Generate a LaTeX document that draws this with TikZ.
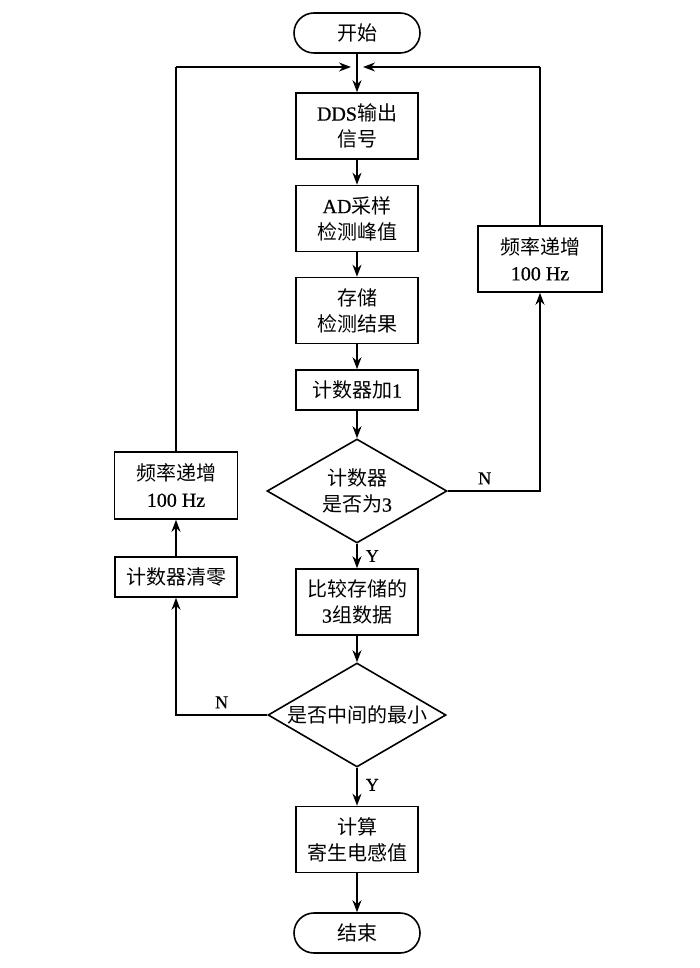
\documentclass[tikz,border=0pt]{standalone}
\usepackage{fontspec}
\setmainfont{Liberation Serif}[FakeBold=0.6]
\newfontfamily\cjk{Noto Sans CJK SC}
\newcommand\zh[1]{{\cjk #1}}
\usetikzlibrary{arrows.meta,shapes.geometric}
\begin{document}
\begin{tikzpicture}[x=1pt,y=-1pt,
  every node/.style={font=\fontsize{20}{26}\selectfont, align=center, inner sep=0pt},
  proc/.style={draw, line width=1.6pt, rectangle, minimum width=122pt, minimum height=66pt},
  procs/.style={draw, line width=1.6pt, rectangle, minimum width=122pt, minimum height=40pt},
  term/.style={draw, line width=1.6pt, rectangle, rounded corners=20pt, minimum width=126pt, minimum height=40pt},
  dec/.style={draw, line width=1.6pt, diamond, aspect=1.72, minimum width=180pt, minimum height=104pt},
  lbl/.style={font=\fontsize{18}{20}\selectfont},
  flow/.style={line width=1.6pt, -{Stealth[length=12pt,width=9pt]}},
  line/.style={line width=1.6pt}
]
\useasboundingbox (0,0) rectangle (700,968);
\node[term] (start) at (357,33) {\zh{开始}};
\node[proc] (dds) at (357,126) {DDS\zh{输出}\\\zh{信号}};
\node[proc] (ad) at (357,218.5) {AD\zh{采样}\\\zh{检测峰值}};
\node[proc] (store) at (357,310.5) {\zh{存储}\\\zh{检测结果}};
\node[procs] (cnt) at (357,390) {\zh{计数器加}1};
\node[dec] (d1) at (357,491) {\zh{计数器}\\\zh{是否为}3};
\node[proc] (cmp) at (357,602) {\zh{比较存储的}\\3\zh{组数据}};
\node[dec, minimum width=178pt] (d2) at (357,715) {\zh{是否中间的最小}};
\node[proc] (calc) at (357,839.5) {\zh{计算}\\\zh{寄生电感值}};
\node[term] (end) at (357,933) {\zh{结束}};
\node[proc, minimum width=124pt] (rfreq) at (540,259) {\zh{频率递增}\\100 Hz};
\node[proc, minimum width=123pt, minimum height=67pt] (lfreq) at (176,485.5) {\zh{频率递增}\\100 Hz};
\node[procs, minimum width=122pt] (clear) at (176,577) {\zh{计数器清零}};
\coordinate (ml) at (176,67);
\coordinate (mr) at (540,67);
\coordinate (mlt) at (351,67);
\coordinate (mrt) at (363,67);
\coordinate (r1) at (540,491);
\coordinate (l2) at (176,715);

\draw[flow] (start.south) -- (dds.north);
\draw[flow] (dds.south) -- (ad.north);
\draw[flow] (ad.south) -- (store.north);
\draw[flow] (store.south) -- (cnt.north);
\draw[flow] (cnt.south) -- (d1.north);
\draw[flow] (d1.south) -- node[lbl, right=8pt, pos=0.5] (y1) {Y} (cmp.north);
\draw[flow] (cmp.south) -- (d2.north);
\draw[flow] (d2.south) -- node[lbl, right=8pt, pos=0.45] (y2) {Y} (calc.north);
\draw[flow] (calc.south) -- (end.north);
\draw[flow] (d1.east) -- node[lbl, above=6pt, pos=0.4] (n1) {N} (r1) -- (rfreq.south);
\draw[line] (rfreq.north) -- (mr);
\draw[flow] (mr) -- (mrt);
\draw[flow] (d2.west) -- node[lbl, above=6pt, pos=0.5] (n2) {N} (l2) -- (clear.south);
\draw[flow] (clear.north) -- (lfreq.south);
\draw[line] (lfreq.north) -- (ml);
\draw[flow] (ml) -- (mlt);
\end{tikzpicture}
\end{document}
